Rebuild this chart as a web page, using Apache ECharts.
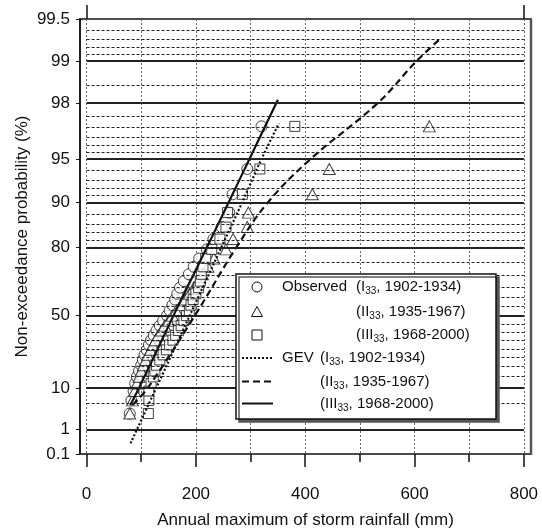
<!DOCTYPE html>
<html>
<head>
<meta charset="utf-8">
<script src="https://cdn.jsdelivr.net/npm/echarts@6/dist/echarts.min.js"></script>
<style>html,body{margin:0;background:#fff}#main{width:542px;height:531px}</style>
</head>
<body>
<div id="main"></div>
<script>
// plotting positions i/(n+1) in %, n = 33
var rankProb = [2.94, 5.88, 8.82, 11.76, 14.71, 17.65, 20.59, 23.53, 26.47, 29.41, 32.35,
  35.29, 38.24, 41.18, 44.12, 47.06, 50.00, 52.94, 55.88, 58.82, 61.76, 64.71, 67.65,
  70.59, 73.53, 76.47, 79.41, 82.35, 85.29, 88.24, 91.18, 94.12, 97.06];

// observed annual maxima (mm), sorted
var obsI = [79, 82, 86, 89, 92, 96, 100, 103, 106, 110, 114, 118, 123, 128, 134, 140, 147,
  152, 157, 162, 166, 171, 178, 187, 196, 206, 220, 232, 247, 261, 267, 294, 320];
var obsII = [79, 84, 88, 92, 96, 100, 104, 108, 112, 117, 121, 126, 131, 137, 143, 150, 157,
  164, 172, 180, 188, 196, 204, 212, 222, 233, 255, 268, 294, 296, 413, 444, 627];
var obsIII = [113, 114, 114, 118, 122, 125, 128, 134, 140, 146, 152, 158, 163, 168, 173, 178,
  183, 188, 191, 195, 200, 205, 208, 210, 213, 218, 229, 244, 255, 258, 285, 317, 381];

// fitted GEV curves
var gevIProb = [0.31, 10, 50, 80, 90, 95, 97.2];
var gevIX = [80.5, 127.5, 188.7, 246.5, 284.8, 320, 351.8];
var gevIIProb = [4.7, 10, 50, 80, 90, 95, 98, 99, 99.3];
var gevIIX = [84, 112, 198, 274, 332, 410, 533, 604, 646];
var gevIIIProb = [4.7, 10, 50, 80, 90, 95, 98.1];
var gevIIIX = [80, 96, 159, 220, 260, 298, 350];

// probability axis
var probTicks = [0.1, 1, 10, 50, 80, 90, 95, 98, 99, 99.5];
var probLabels = ['0.1', '1', '10', '50', '80', '90', '95', '98', '99', '99.5'];
var majorGrid = [1, 10, 50, 80, 90, 95, 98, 99];
var minorGrid = [5, 15, 20, 25, 30, 35, 40, 45, 55, 60, 65, 70, 75, 82, 84, 86, 88,
  91, 92, 93, 94, 95.5, 96, 96.5, 97, 97.5, 98.5, 99.1, 99.2, 99.3, 99.4];
var xMajor = [0, 200, 400, 600, 800];
var xMinor = [0, 100, 200, 300, 400, 500, 600, 700, 800];

var FONT = '"Liberation Sans", Arial, sans-serif';

// Gumbel reduced variate
function gv(pct) { return -Math.log(-Math.log(pct / 100)); }

function pairs(xs, ps) { return xs.map(function (x, k) { return [x, gv(ps[k])]; }); }

function hLines(list) {
  return list.map(function (p) { return [{ coord: [0, gv(p)] }, { coord: [800, gv(p)] }]; });
}

var chart = echarts.init(document.getElementById('main'));
var option = {
  animation: false,
  grid: {
    left: 80, right: 11, top: 19, bottom: 77, containLabel: false, outerBoundsMode: 'none',
    show: true, borderColor: '#111', borderWidth: 1.5
  },
  xAxis: [
    {
      type: 'value', min: -12, max: 813, position: 'bottom',
      name: 'Annual maximum of storm rainfall (mm)', nameLocation: 'middle', nameGap: 58,
      nameTextStyle: { fontFamily: FONT, fontSize: 17, color: '#111' },
      axisLine: { show: false, onZero: false },
      axisTick: { customValues: xMajor, length: 13, lineStyle: { color: '#111', width: 1.5 } },
      axisLabel: { customValues: xMajor, margin: 32, fontFamily: FONT, fontSize: 17, color: '#111' },
      splitLine: { show: false }
    },
    {
      type: 'value', min: -12, max: 813, position: 'bottom',
      axisLine: { show: false, onZero: false },
      axisTick: { customValues: xMinor, length: 8, lineStyle: { color: '#111', width: 1.5 } },
      axisLabel: { show: false },
      splitLine: { show: true, lineStyle: { color: '#666', type: [2, 2], width: 1 } }
    },
    {
      type: 'value', min: -12, max: 813, position: 'top',
      axisLine: { show: false, onZero: false },
      axisTick: { customValues: [0, 800], length: 14, lineStyle: { color: '#111', width: 1.5 } },
      axisLabel: { show: false },
      splitLine: { show: false }
    }
  ],
  yAxis: {
    type: 'value', min: gv(0.1), max: gv(99.5),
    name: 'Non-exceedance probability (%)', nameLocation: 'middle', nameGap: 49, nameMoveOverlap: false,
    nameTextStyle: { fontFamily: FONT, fontSize: 17, color: '#111' },
    axisLine: { show: true, onZero: false, lineStyle: { color: '#111', width: 1.5 } },
    axisTick: { customValues: probTicks.map(gv), length: 4, lineStyle: { color: '#111', width: 1 } },
    axisLabel: {
      customValues: probTicks.map(gv), margin: 10, fontFamily: FONT, fontSize: 17, color: '#111',
      formatter: function (v) {
        var best = 0;
        probTicks.forEach(function (t, k) {
          if (Math.abs(gv(t) - v) < Math.abs(gv(probTicks[best]) - v)) best = k;
        });
        return probLabels[best];
      }
    },
    splitLine: { show: false }
  },
  series: [
    {
      name: 'grid', type: 'line', data: [], z: 1, silent: true,
      markLine: {
        silent: true, symbol: ['none', 'none'], label: { show: false }, animation: false,
        lineStyle: { color: '#222', width: 1, type: [3, 2] },
        data: hLines(minorGrid)
      }
    },
    {
      name: 'gridMajor', type: 'line', data: [], z: 1, silent: true,
      markLine: {
        silent: true, symbol: ['none', 'none'], label: { show: false }, animation: false,
        lineStyle: { color: '#222', width: 1.8, type: 'solid' },
        data: hLines(majorGrid)
      }
    },
    {
      name: 'Observed I', type: 'scatter', z: 3, symbol: 'circle', symbolSize: 11,
      itemStyle: { color: '#fff', borderColor: '#111', borderWidth: 1 },
      data: pairs(obsI, rankProb)
    },
    {
      name: 'Observed II', type: 'scatter', z: 3, symbol: 'triangle', symbolSize: [12, 11],
      itemStyle: { color: '#fff', borderColor: '#111', borderWidth: 1 },
      data: pairs(obsII, rankProb)
    },
    {
      name: 'Observed III', type: 'scatter', z: 3, symbol: 'rect', symbolSize: 10,
      itemStyle: { color: '#fff', borderColor: '#111', borderWidth: 1 },
      data: pairs(obsIII, rankProb)
    },
    {
      name: 'GEV I', type: 'line', z: 4, showSymbol: false, smooth: 0.3,
      lineStyle: { color: '#111', width: 2.2, type: [2, 2] },
      data: pairs(gevIX, gevIProb)
    },
    {
      name: 'GEV II', type: 'line', z: 4, showSymbol: false, smooth: 0.4,
      lineStyle: { color: '#111', width: 2.2, type: [7, 4] },
      data: pairs(gevIIX, gevIIProb)
    },
    {
      name: 'GEV III', type: 'line', z: 4, showSymbol: false, smooth: 0.3,
      lineStyle: { color: '#111', width: 2.2 },
      data: pairs(gevIIIX, gevIIIProb)
    }
  ]
};

// legend box
var rowY = [287, 312, 335, 358, 381.5, 403.5];
var txt = { fontFamily: FONT, fontSize: 15, fill: '#111', verticalAlign: 'middle' };
var rich = {
  t: { fontFamily: FONT, fontSize: 15, fill: '#111', lineHeight: 18 },
  s: { fontFamily: FONT, fontSize: 10, fill: '#111', lineHeight: 10, padding: [9, 0, 0, 0] }
};
function label(x, y, s) {
  return { type: 'text', x: x, y: y, z: 101, style: Object.assign({ text: s, rich: rich }, txt) };
}
var sym = { fill: '#fff', stroke: '#111', lineWidth: 1 };
option.graphic = [
  { type: 'line', z: 90, shape: { x1: 531, y1: 19, x2: 531, y2: 455 }, style: { stroke: '#555', lineWidth: 2.5 } },
  { type: 'rect', z: 100, shape: { x: 236, y: 274, width: 260, height: 145 },
    style: { fill: '#fff', stroke: '#111', lineWidth: 1.5, shadowColor: '#555', shadowOffsetX: 3, shadowOffsetY: 3, shadowBlur: 0 } },
  { type: 'circle', z: 101, shape: { cx: 257, cy: rowY[0], r: 5 }, style: sym },
  { type: 'polygon', z: 101, shape: { points: [[257, rowY[1] - 5.5], [251.5, rowY[1] + 4.5], [262.5, rowY[1] + 4.5]] }, style: sym },
  { type: 'rect', z: 101, shape: { x: 252, y: rowY[2] - 5, width: 10, height: 10 }, style: sym },
  { type: 'line', z: 101, shape: { x1: 242, y1: rowY[3], x2: 273, y2: rowY[3] }, style: { stroke: '#111', lineWidth: 2, lineDash: [2, 2] } },
  { type: 'line', z: 101, shape: { x1: 242, y1: rowY[4], x2: 273, y2: rowY[4] }, style: { stroke: '#111', lineWidth: 2, lineDash: [7, 4] } },
  { type: 'line', z: 101, shape: { x1: 242, y1: rowY[5], x2: 273, y2: rowY[5] }, style: { stroke: '#111', lineWidth: 2 } },
  label(282, rowY[0], 'Observed'),
  label(356, rowY[0], '{t|(I}{s|33}{t|, 1902-1934)}'),
  label(356, rowY[1], '{t|(II}{s|33}{t|, 1935-1967)}'),
  label(356, rowY[2], '{t|(III}{s|33}{t|, 1968-2000)}'),
  label(282, rowY[3], 'GEV'),
  label(320, rowY[3], '{t|(I}{s|33}{t|, 1902-1934)}'),
  label(320, rowY[4], '{t|(II}{s|33}{t|, 1935-1967)}'),
  label(320, rowY[5], '{t|(III}{s|33}{t|, 1968-2000)}')
];

chart.setOption(option);
</script>
</body>
</html>
